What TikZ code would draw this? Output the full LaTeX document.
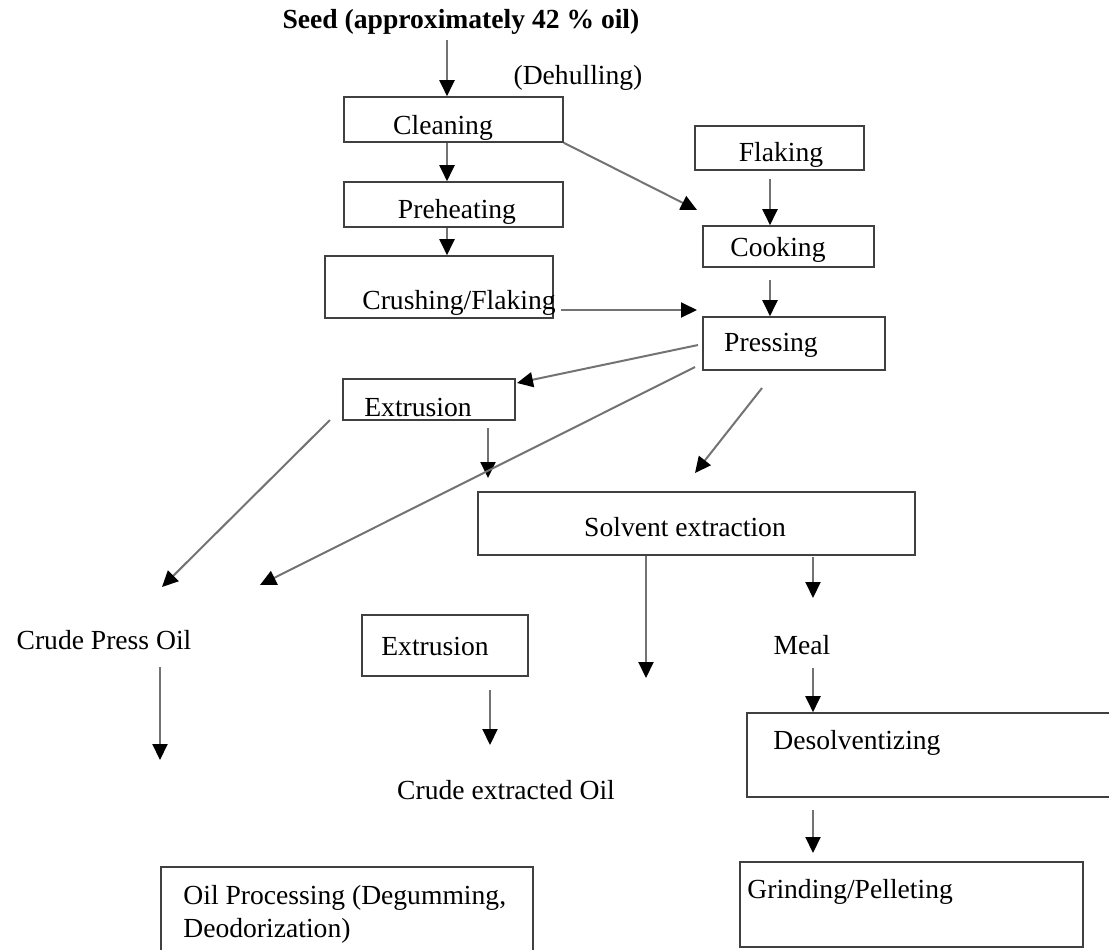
\documentclass[tikz,border=0pt]{standalone}
\usepackage{fontspec}
\setmainfont{Liberation Serif}
\usetikzlibrary{arrows.meta,fit}

\begin{document}
\begin{tikzpicture}[x=0.5pt, y=-0.5pt,
  every node/.style={inner sep=0pt, font=\fontsize{13.8}{13.5}\selectfont},
  stage/.style={draw=black!75, line width=0.8pt},
  flow/.style={draw=black!55, line width=1pt, -{Triangle[length=8pt,width=7.5pt,color=black]}}]
\useasboundingbox (0,0) rectangle (1109,949);
\clip (0,0) rectangle (1109,949);

% boxes
\node[stage, fit={(344,97) (563,142)}] (clean) {};
\node[stage, fit={(344,182) (563,227)}] (preheat) {};
\node[stage, fit={(325,256) (553,318)}] (crush) {};
\node[stage, fit={(695,126) (864,170)}] (flake) {};
\node[stage, fit={(703,226) (874,267)}] (cook) {};
\node[stage, fit={(703,317) (885,370)}] (press) {};
\node[stage, fit={(343,379) (515,420)}] (extr) {};
\node[stage, fit={(478,492) (915,555)}] (solv) {};
\node[stage, fit={(362,615) (528,676)}] (extrb) {};
\node[stage, fit={(747,713) (1130,797)}] (desolv) {};
\node[stage, fit={(740,862) (1083,947)}] (grind) {};
\node[stage, fit={(161,867) (533,970)}] (oilproc) {};

% texts
\node[font=\fontsize{13.8}{13.5}\selectfont\bfseries] (seed) at (461,22) {Seed (approximately 42 \% oil)};
\node (dehull) at (578,78) {(Dehulling)};
\node (cleantxt) at (443,128) {Cleaning};
\node (preheattxt) at (457,212) {Preheating};
\node (crushtxt) at (459,303) {Crushing/Flaking};
\node (flaketxt) at (781,155) {Flaking};
\node (cooktxt) at (778,250) {Cooking};
\node (presstxt) at (771,345) {Pressing};
\node (extrtxt) at (418,407) {Extrusion};
\node (solvtxt) at (685,527) {Solvent extraction};
\node (cpo) at (104,640) {Crude Press Oil};
\node (extrbtxt) at (435,646) {Extrusion};
\node (meal) at (802,645) {Meal};
\node[anchor=west] (desolvtxt) at (773,743) {Desolventizing};
\node[anchor=west] (grindtxt) at (747,892) {Grinding/Pelleting};
\node (ceo) at (506,790) {Crude extracted Oil};
\node[anchor=north west, align=left, font=\fontsize{13.8}{16.5}\selectfont] (oiltxt) at (183,885) {Oil Processing (Degumming,\\Deodorization)};

% free ends
\coordinate (s1) at (447,40);
\coordinate (cr1) at (561,310);
\coordinate (pr1) at (697,310);
\coordinate (ck1) at (697,210);
\coordinate (fl1) at (770,179);
\coordinate (ck2) at (770,280);
\coordinate (pr2) at (698,345);
\coordinate (ex1) at (517,383);
\coordinate (ex2) at (488,428);
\coordinate (ex3) at (488,478);
\coordinate (pr3) at (695,367);
\coordinate (co1) at (260,585);
\coordinate (ex4) at (330,420);
\coordinate (co2) at (162,587);
\coordinate (pr4) at (762,388);
\coordinate (sv1) at (695,473);
\coordinate (sv2) at (646,678);
\coordinate (sv3) at (813,557);
\coordinate (ml1) at (813,598);
\coordinate (cp1) at (160,667);
\coordinate (cp2) at (160,760);
\coordinate (eb1) at (490,690);
\coordinate (eb2) at (490,745);
\coordinate (ml2) at (813,668);
\coordinate (ds1) at (813,810);
\coordinate (gr1) at (813,853);

% arrows
\draw[flow] (s1) -- (s1 |- clean.north);
\draw[flow] (clean.south -| s1) -- (s1 |- preheat.north);
\draw[flow] (preheat.south -| s1) -- (s1 |- crush.north);
\draw[flow] (cr1) -- (pr1);
\draw[flow] (clean.south east) -- (ck1);
\draw[flow] (fl1) -- (fl1 |- cook.north);
\draw[flow] (ck2) -- (ck2 |- press.north);
\draw[flow] (pr2) -- (ex1);
\draw[flow] (ex2) -- (ex3);
\draw[flow] (pr3) -- (co1);
\draw[flow] (ex4) -- (co2);
\draw[flow] (pr4) -- (sv1);
\draw[flow] (solv.south -| sv2) -- (sv2);
\draw[flow] (sv3) -- (ml1);
\draw[flow] (cp1) -- (cp2);
\draw[flow] (eb1) -- (eb2);
\draw[flow] (ml2) -- (ml2 |- desolv.north);
\draw[flow] (ds1) -- (gr1);

\end{tikzpicture}
\end{document}
